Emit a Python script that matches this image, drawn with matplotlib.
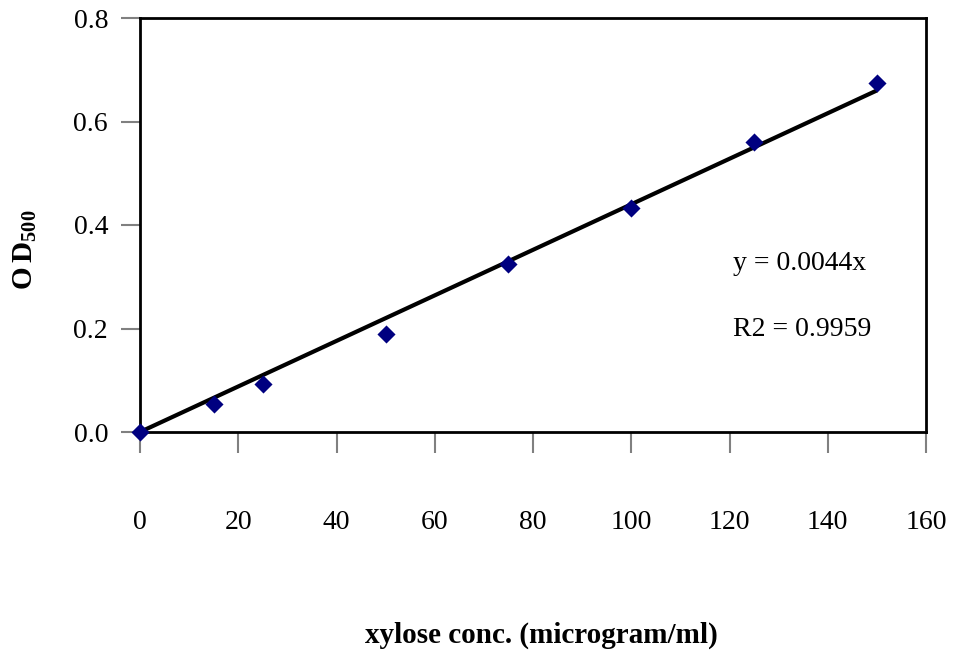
import numpy as np
import matplotlib.pyplot as plt

conc = [0, 15, 25, 50, 75, 100, 125, 150]
od500 = [0.0, 0.054, 0.093, 0.19, 0.325, 0.433, 0.56, 0.674]
slope = 0.0044
r2 = 0.9959

x_ticks = [0, 20, 40, 60, 80, 100, 120, 140, 160]
y_ticks = [0.0, 0.2, 0.4, 0.6, 0.8]

plt.rcParams['font.family'] = ['Liberation Serif', 'DejaVu Serif']
plt.rcParams['mathtext.fontset'] = 'custom'
plt.rcParams['mathtext.rm'] = 'Liberation Serif'
plt.rcParams['mathtext.bf'] = 'Liberation Serif:bold'

fig = plt.figure(figsize=(9.54, 6.54), dpi=100)
ax = fig.add_axes([140/954, 1-432/654, 786/954, 414/654])

ax.scatter(conc, od500, marker='D', s=85, color='#000080', zorder=3,
           linewidths=0, clip_on=False)
xfit = np.array([0, conc[-1]])
ax.plot(xfit, slope*xfit, color='black', lw=3, zorder=2, solid_capstyle='butt')

ax.set_xlim(0, 160)
ax.set_ylim(0, 0.8)
ax.set_xticks(x_ticks)
ax.set_yticks(y_ticks)
ax.set_yticklabels(['%.1f' % v for v in y_ticks])

for s in ax.spines.values():
    s.set_linewidth(2)
    s.set_color('black')

ax.tick_params(axis='x', direction='out', length=15, width=1.5, color='#808080',
               pad=41, labelsize=20)
ax.tick_params(axis='y', direction='out', length=14, width=1.5, color='#808080',
               pad=9, labelsize=20)

ax.text(733/954, 1-263/654, 'y = %.4fx' % slope, transform=fig.transFigure,
        fontsize=20, ha='left', va='center')
ax.text(733/954, 1-330/654, 'R2 = %.4f' % r2, transform=fig.transFigure,
        fontsize=20, ha='left', va='center')

fig.text(25/954, 1-250/654, r'$\mathbf{O\,D_{500}}$', rotation=90,
         fontsize=21, ha='center', va='center')
fig.text(541/954, 1-635/654, 'xylose conc. (microgram/ml)', fontsize=21,
         fontweight='bold', ha='center', va='center')

fig.savefig('out.png', dpi=100)
